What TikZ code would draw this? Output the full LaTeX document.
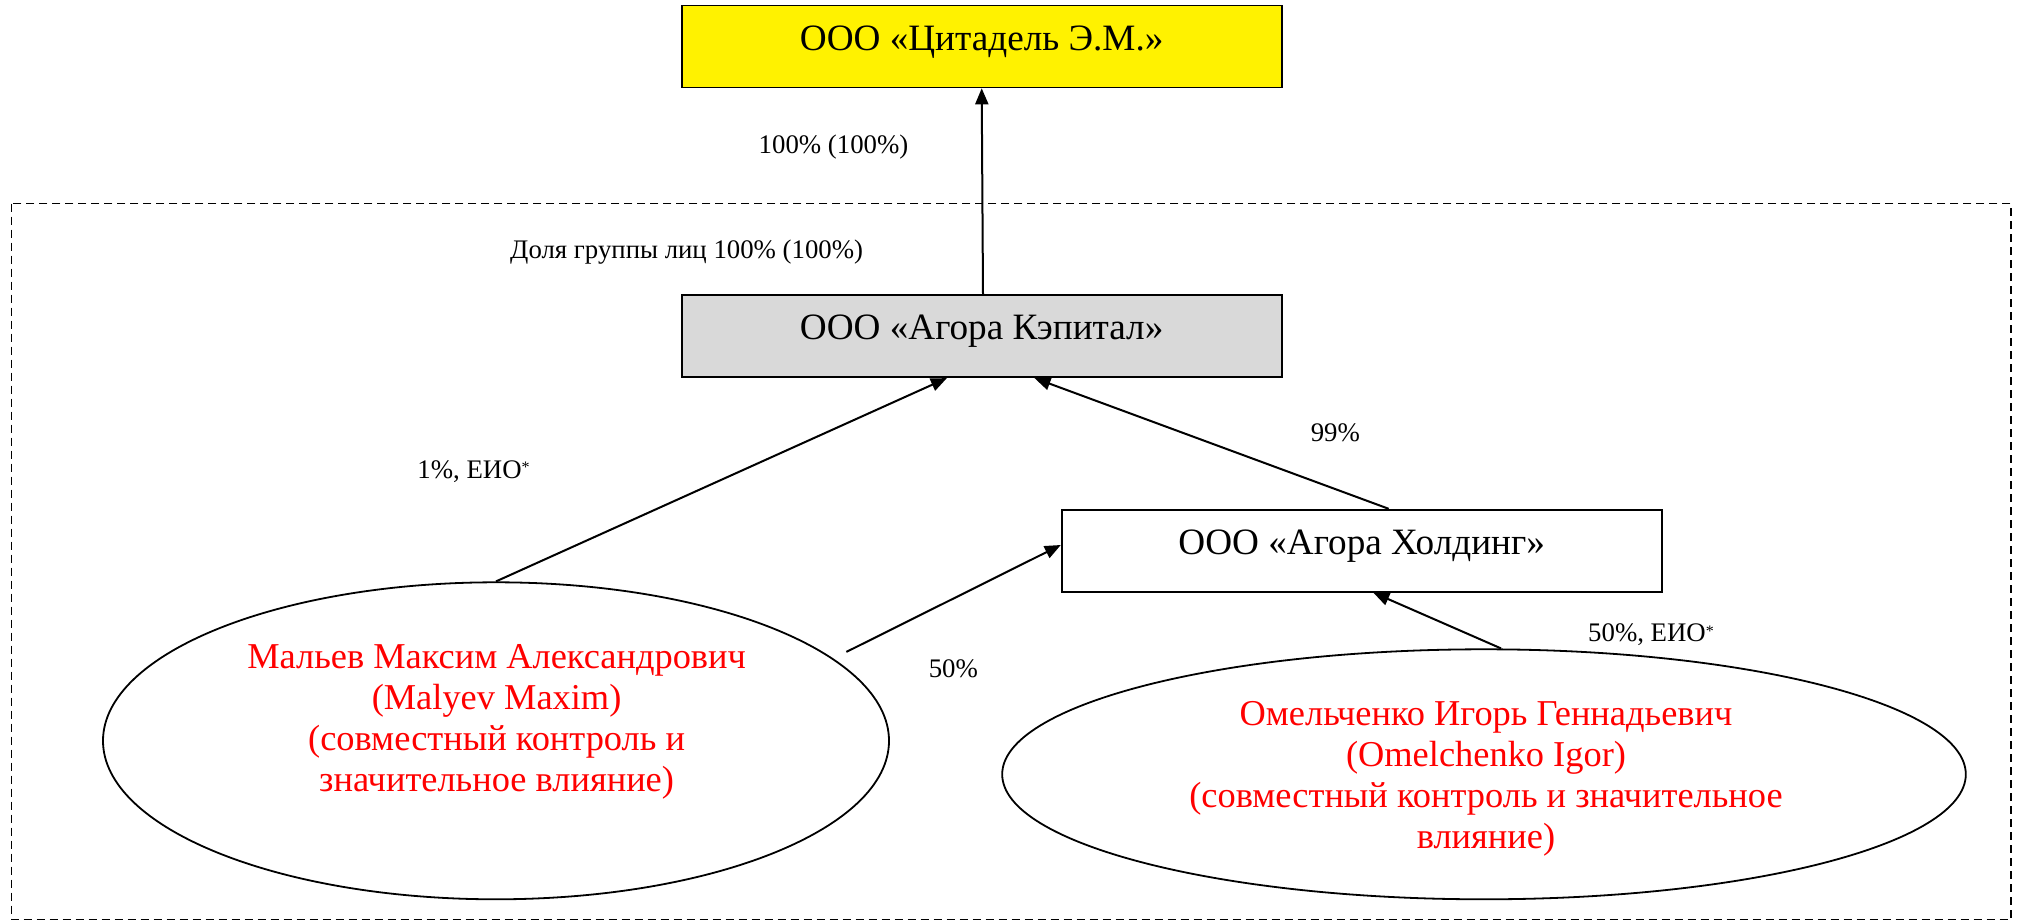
\documentclass[tikz,border=0pt]{standalone}
\usepackage{fontspec}
\setmainfont{Liberation Serif}
\usetikzlibrary{arrows.meta,shapes.geometric,calc}
\definecolor{boxgray}{HTML}{D9D9D9}
\tikzset{
  orgbox/.style={draw=black, line width=0.9pt, minimum width=300pt, minimum height=41pt, inner sep=0pt,
    font=\fontsize{18.6}{20.5}\selectfont, text height=0.7em, text depth=0.34em},
  person/.style={draw=black, line width=0.9pt, ellipse, inner sep=0pt},
  persontext/.style={text=red, align=center, font=\fontsize{18.2}{20.5}\selectfont, inner sep=0pt},
  lbl/.style={font=\fontsize{13.4}{15}\selectfont, inner sep=0pt},
  link/.style={draw=black, line width=1pt, -{Triangle[length=8pt,width=6.5pt]}},
  group/.style={draw=black, line width=0.85pt, dash pattern=on 4pt off 2.5pt}
}
\newcommand{\astmark}{\raisebox{0.45ex}{\fontsize{8}{8}\selectfont *}}
\begin{document}
\begin{tikzpicture}[x=0.5pt,y=-0.5pt]
\useasboundingbox (0,0) rectangle (2020,921);
\draw[group] (11.6,203.5) rectangle (2011,919.5);

\node[orgbox, fill=yellow] (cit) at (981.7,46.4) {ООО «Цитадель Э.М.»};
\node[orgbox, fill=boxgray] (cap) at (981.7,336.2) {ООО «Агора Кэпитал»};
\node[orgbox, fill=white] (hold) at (1361.7,550.7) {ООО «Агора Холдинг»};

\node[person, minimum width=393pt, minimum height=158.5pt] (mal) at (496,740.8) {};
\node[persontext] (maltext) at (496.6,722) {Мальев Максим Александрович\\(Malyev Maxim)\\(совместный контроль и\\значительное влияние)};

\node[person, minimum width=481.8pt, minimum height=125pt] (omel) at (1484,774.3) {};
\node[persontext] (omeltext) at (1486,778.8) {Омельченко Игорь Геннадьевич\\(Omelchenko Igor)\\(совместный контроль и значительное\\влияние)};

\coordinate (malright) at (846.4,651.9);

\draw[link] ($(cap.north)+(1.3,0)$) -- (cit.south);
\draw[link] (mal.north) -- ($(cap.south)+(-34.8,0)$);
\draw[link] ($(hold.north)+(27,0)$) -- ($(cap.south)+(52.8,0)$);
\draw[link] (malright) -- ($(hold.west)+(0,-5.7)$);
\draw[link] ($(omel.north)+(17,0)$) -- ($(hold.south)+(11.6,0)$);

\node[lbl] (l100) at (833.5,146.9) {100\% (100\%)};
\node[lbl] (lgroup) at (686.7,252.5) {Доля группы лиц 100\% (100\%)};
\node[lbl] (l1) at (473.5,471.5) {1\%, ЕИО\astmark};
\node[lbl] (l99) at (1335.3,432.9) {99\%};
\node[lbl] (l50) at (953.4,668.6) {50\%};
\node[lbl] (l50e) at (1651,635) {50\%, ЕИО\astmark};
\end{tikzpicture}
\end{document}
